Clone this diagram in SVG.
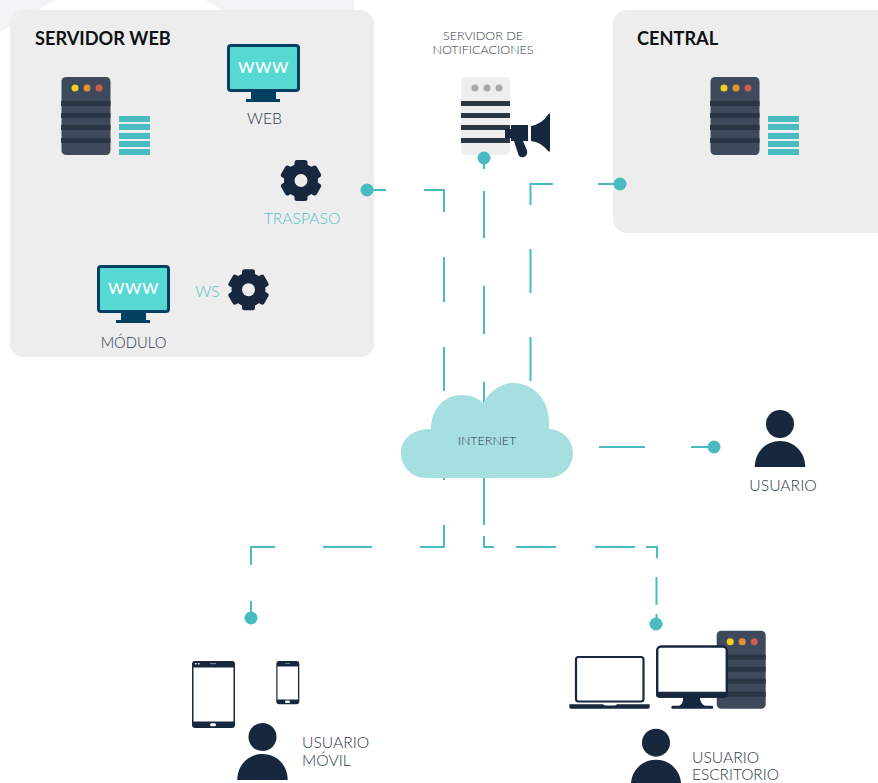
<svg xmlns="http://www.w3.org/2000/svg" width="878" height="783" viewBox="0 0 878 783">
<style>
text{font-family:"Lato","Noto Sans","Liberation Sans",sans-serif;font-size:15.7px;font-weight:300;fill:#2c3849}
.title{font-size:18.2px;font-weight:700;fill:#0f1114}
.teal{fill:#55c2c7}
.small{font-size:12.5px}
.c{text-anchor:middle}
.panel{fill:#ededee}
.dark{fill:#16273e}
.bar{fill:#293744}
.stack{fill:#49bcc1}
.conn{fill:none;stroke:#49bcc1;stroke-width:2}
.dot{fill:#49bcc1}
.scr{fill:#fff}
</style>
<defs>
<g id="srv">
<rect x="0" y="0" width="49" height="78" rx="4.5" fill="#3e4a5b"/>
<circle cx="13.5" cy="11" r="3.500" fill="#f2cf21"/><circle cx="25.500" cy="11" r="3.500" fill="#de9435"/><circle cx="37.500" cy="11" r="3.500" fill="#cd5e50"/>
<rect class="bar" x="-0.5" y="24" width="49.500" height="5"/><rect class="bar" x="-0.5" y="36" width="49.500" height="5"/><rect class="bar" x="-0.5" y="48" width="49.500" height="5"/><rect class="bar" x="-0.5" y="61" width="49.500" height="5"/>
</g>
<g id="stk">
<rect class="stack" x="0" y="0" width="31" height="6"/><rect class="stack" x="0" y="8" width="31" height="6"/><rect class="stack" x="0" y="17" width="31" height="6"/><rect class="stack" x="0" y="25" width="31" height="6"/><rect class="stack" x="0" y="33" width="31" height="6"/>
</g>
<g id="mon">
<rect x="1.500" y="1.500" width="70" height="45" rx="2.500" fill="#56d9d2" stroke="#033f60" stroke-width="3"/>
<rect x="24" y="47" width="25" height="8" fill="#033f60"/><rect x="19" y="55" width="34" height="3" fill="#033f60"/>
<text x="36.500" y="29" class="c" style="font-size:21px;fill:#fff;font-weight:400;letter-spacing:.5px">www</text>
</g>
<g id="gear">
<circle r="17" class="dark"/>
<g class="dark"><rect x="-6.500" y="-20.500" width="13" height="10" rx="2.500"/><rect x="-6.500" y="-20.500" width="13" height="10" rx="2.500" transform="rotate(60)"/><rect x="-6.500" y="-20.500" width="13" height="10" rx="2.500" transform="rotate(120)"/><rect x="-6.500" y="-20.500" width="13" height="10" rx="2.500" transform="rotate(180)"/><rect x="-6.500" y="-20.500" width="13" height="10" rx="2.500" transform="rotate(240)"/><rect x="-6.500" y="-20.500" width="13" height="10" rx="2.500" transform="rotate(300)"/></g>
<circle r="6.500" class="panel"/>
</g>
<g id="usr" class="dark">
<circle cx="0" cy="-43" r="14"/>
<path d="M-25.200 0C-25.200-15-14-26 0-26C14-26 25.200-15 25.200 0Z"/>
</g>
</defs>
<g id="background">
<path d="M0 0H55L0 32Z" fill="#f3f3f5"/>
<path d="M205 0H354V10H222Z" fill="#f3f3f5"/>
</g>
<g id="servidor-web-panel"><rect class="panel" x="10" y="10" width="364" height="347" rx="14"/><text class="title" x="35" y="44.500">SERVIDOR WEB</text></g>
<g id="central-panel"><rect class="panel" x="613" y="10" width="285" height="223" rx="14"/><text class="title" x="637" y="44.500">CENTRAL</text></g>
<g id="servidor-notificaciones">
<text x="483" y="40" class="c small">SERVIDOR DE</text><text x="483" y="54" class="c small">NOTIFICACIONES</text>
<rect x="461" y="77" width="49" height="78" rx="4.500" fill="#eeeeef"/>
<circle cx="475" cy="88" r="3.500" fill="#a8a8a8"/><circle cx="487" cy="88" r="3.500" fill="#a8a8a8"/><circle cx="499" cy="88" r="3.500" fill="#a8a8a8"/>
<rect class="bar" x="461" y="101" width="49" height="5"/><rect class="bar" x="461" y="113" width="49" height="5"/><rect class="bar" x="461" y="125" width="49" height="5"/><rect class="bar" x="461" y="138" width="49" height="5"/>
<path class="dark" d="M505 129H511V125H528V141H523L527 150.500Q528 155 524 157Q520 158 518.500 155L514 141H511V138H505Z"/>
<path class="dark" d="M531 126Q542 124 548.500 114Q550 112 550 115V150Q550 153 548 151Q541 142 531 141Z"/>
</g>
<g id="connectors">
<g class="conn">
<path d="M367 190H386M424 190H444V212M444 257V302M444 347V391M444 478V480M444 525V547H420M372 547H323M275 547H251V565M251 601V618"/>
<path d="M484 158V169M484 191V238M484 286V334M484 382V410M484 470V525M484 536V547H494M516 547H556M595 547H635M646 547H657V558M656.500 577V605M656.500 614V624"/>
<path d="M620 184H598M553 184H530.500V205M530.500 249V293M530.500 337V381"/>
<path d="M599 447H645M691 447H714"/>
</g>
<circle class="dot" cx="367" cy="190" r="6.500"/><circle class="dot" cx="484" cy="158" r="6.500"/><circle class="dot" cx="620" cy="184" r="6.500"/><circle class="dot" cx="714" cy="447" r="6.500"/><circle class="dot" cx="251" cy="618" r="6.500"/><circle class="dot" cx="656" cy="624" r="6.500"/>
</g>
<g id="servidor-web-server"><use href="#srv" x="61.500" y="77"/><use href="#stk" x="119" y="116"/></g>
<g id="web"><use href="#mon" x="227" y="44"/><text x="264.500" y="124" class="c">WEB</text></g>
<g id="traspaso"><use href="#gear" x="301" y="180.500"/><text x="302" y="224" class="c teal">TRASPASO</text></g>
<g id="modulo"><use href="#mon" x="97" y="265"/><text x="133.500" y="347.500" class="c" style="font-size:14.8px">MÓDULO</text></g>
<g id="ws"><text x="207.500" y="297" class="c teal">WS</text><use href="#gear" x="248.500" y="289.700"/></g>
<g id="central-server"><use href="#srv" x="710.500" y="77"/><use href="#stk" x="768" y="116"/></g>
<g id="internet">
<path d="M431 429C431 408 445 395 462 395C471 395 478 398 483 403C490 391 501 383 513 383C533 383 549 399 549 422V429C563 430 573 440 573 453C573 467 562 478 548 478H426C412 478 401 467 401 453C401 439 412 429 431 429Z" fill="#a5dfe0"/>
<text x="487" y="445" class="c small">INTERNET</text>
</g>
<g id="usuario"><use href="#usr" x="780" y="467"/><text x="783" y="491" class="c">USUARIO</text></g>
<g id="usuario-movil">
<rect class="dark" x="192" y="661" width="43" height="67" rx="3"/><rect class="scr" x="193.500" y="667.500" width="40" height="54"/>
<rect class="scr" x="210" y="723.300" width="6" height="3" rx="1.500"/><rect x="210" y="663" width="6" height="1.200" fill="#778"/><rect class="scr" x="195" y="663" width="1.500" height="1.500"/><rect class="scr" x="198" y="663" width="1.500" height="1.500"/>
<rect class="dark" x="276.300" y="661" width="23" height="43.300" rx="3"/><rect class="scr" x="277.500" y="666.500" width="20.500" height="33"/>
<rect class="scr" x="285" y="700.500" width="5" height="2.500" rx="1.200"/><rect x="285" y="663" width="5" height="1" fill="#778"/>
<use href="#usr" x="262.500" y="780"/>
<text x="302" y="748">USUARIO</text><text x="302" y="766">MÓVIL</text>
</g>
<g id="usuario-escritorio">
<use href="#srv" x="716.700" y="630.700"/>
<rect x="576" y="657" width="67.500" height="44.500" rx="2.500" fill="#fff" stroke="#16273e" stroke-width="2.200"/>
<path class="dark" d="M569.300 704.300H603Q604 705.500 606 705.500H614Q616 705.500 617 704.300H649.700V707Q649.700 708.700 648 708.700H571Q569.300 708.700 569.300 707Z"/>
<rect x="657.200" y="646.500" width="69.600" height="50" rx="4" fill="#fff" stroke="#16273e" stroke-width="2.400"/>
<rect class="dark" x="656" y="691.700" width="72" height="6" rx="3"/>
<path class="dark" d="M683 697H700V699Q701 704 705 705.700H712Q713.300 705.700 713.300 707.200T712 708.700H672.500Q671.300 708.700 671.300 707.200T672.500 705.700H679Q683 704 683 699Z"/>
<use href="#usr" x="656" y="785.700"/>
<text x="692" y="762.500">USUARIO</text><text x="692" y="780" style="font-size:15.4px">ESCRITORIO</text>
</g>
</svg>
